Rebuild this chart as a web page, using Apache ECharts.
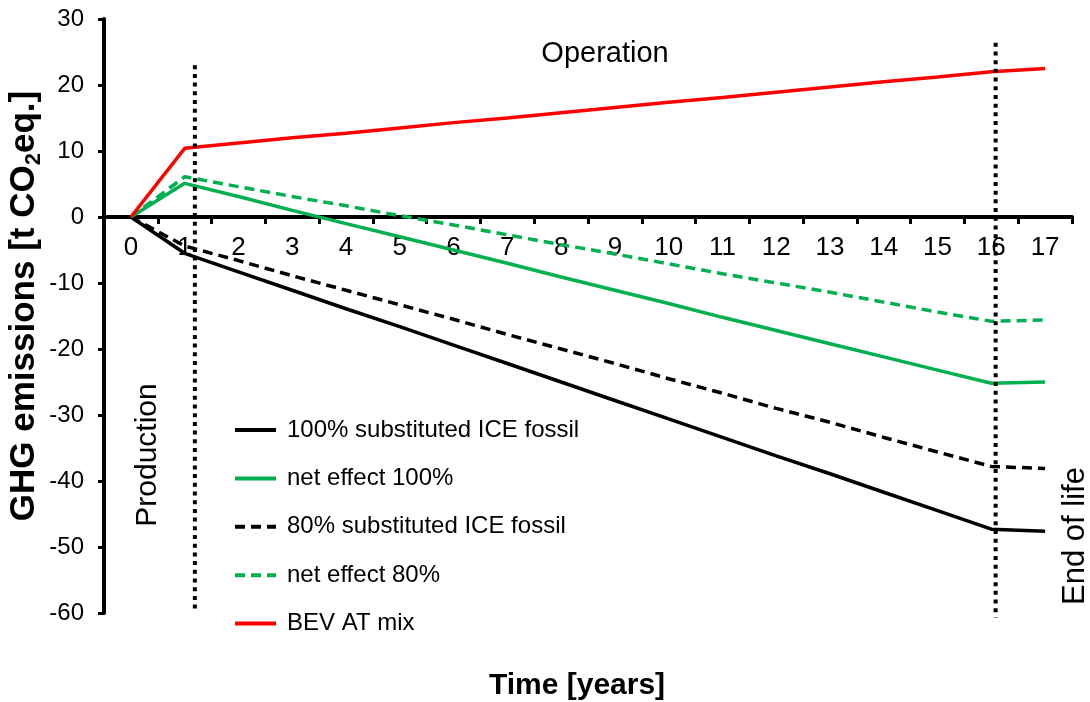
<!DOCTYPE html>
<html><head><meta charset="utf-8">
<script src="https://cdn.jsdelivr.net/npm/echarts@6/dist/echarts.min.js"></script>
<style>html,body{margin:0;padding:0;background:#fff}#c{width:1090px;height:702px}</style>
</head><body><div id="c"></div>
<script>
// ---- data ----
const years = ['0','1','2','3','4','5','6','7','8','9','10','11','12','13','14','15','16','17'];
const ice100 = [0, -5.5, -8.3, -11.1, -13.9, -16.6, -19.4, -22.2, -25.0, -27.8, -30.6, -33.4, -36.2, -38.9, -41.7, -44.5, -47.3, -47.6];
const net100 = [0, 5.1, 3.1, 1.0, -1.0, -3.0, -5.0, -7.0, -9.1, -11.1, -13.1, -15.2, -17.2, -19.2, -21.2, -23.2, -25.2, -25.0];
const ice80  = [0, -4.4, -6.6, -8.9, -11.1, -13.3, -15.5, -17.8, -20.0, -22.2, -24.5, -26.7, -29.0, -31.1, -33.4, -35.6, -37.8, -38.1];
const net80  = [0, 6.1, 4.6, 3.1, 1.7, 0.2, -1.2, -2.7, -4.2, -5.6, -7.1, -8.6, -10.0, -11.4, -12.9, -14.4, -15.8, -15.6];
const bev    = [0, 10.4, 11.2, 12.0, 12.7, 13.5, 14.3, 15.0, 15.8, 16.6, 17.4, 18.1, 18.9, 19.7, 20.5, 21.2, 22.0, 22.5];
const yTicks = [-60, -50, -40, -30, -20, -10, 0, 10, 20, 30];
// phase boundary markers (time position, top value, bottom value)
const productionEnd = [1.19, 23.0, -60.0];
const lifeEnd = [16.08, 26.4, -60.7];

const F = "'Liberation Sans', Arial, Helvetica, sans-serif";
const chart = echarts.init(document.getElementById('c'), null, {renderer: 'canvas'});

const GRID_TOP = 19, GRID_BOTTOM = 89, H = 702;
const yMin = yTicks[0], yMax = yTicks[yTicks.length - 1];
const plotH = H - GRID_TOP - GRID_BOTTOM;
// move the category axis up so that it sits on y = 0
const xAxisOffset = -plotH * (0 - yMin) / (yMax - yMin);

function lineSeries(name, data, color, dashed) {
  return {
    name, type: 'line', data, symbol: 'none', showSymbol: false, smooth: false,
    xAxisIndex: 0, yAxisIndex: 0,
    lineStyle: {color, width: 3.5, type: dashed ? [10, 6] : 'solid', cap: 'butt'},
    itemStyle: {color},
    emphasis: {disabled: true}, silent: true
  };
}
function marker(name, m) {
  return {
    name, type: 'line', xAxisIndex: 1, yAxisIndex: 0, symbol: 'none', clip: false, silent: true,
    data: [[m[0], m[1]], [m[0], m[2]]],
    lineStyle: {color: '#000', width: 4, type: [4, 4.7], cap: 'butt'}, z: 5
  };
}

chart.setOption({
  animation: false,
  backgroundColor: '#fff',
  grid: {left: 104, right: 18, top: GRID_TOP, bottom: GRID_BOTTOM, containLabel: false},
  xAxis: [{
    type: 'category', data: years, boundaryGap: true, position: 'bottom', offset: xAxisOffset,
    axisLine: {onZero: false, lineStyle: {color: '#000', width: 4}},
    axisTick: {show: true, inside: false, length: 7, alignWithLabel: false, lineStyle: {color: '#000', width: 3}},
    axisLabel: {color: '#000', fontSize: 26, fontFamily: F, margin: 18, interval: 0},
    splitLine: {show: false}
  }, {
    type: 'value', min: -0.5, max: 17.5, show: false
  }],
  yAxis: {
    type: 'value', min: yMin, max: yMax, interval: 10,
    axisLine: {show: true, onZero: false, lineStyle: {color: '#000', width: 4}},
    axisTick: {show: true, length: 6, lineStyle: {color: '#000', width: 3}},
    axisLabel: {color: '#000', fontSize: 24, fontFamily: F, margin: 20},
    splitLine: {show: false}
  },
  legend: {
    data: ['100% substituted ICE fossil', 'net effect 100%', '80% substituted ICE fossil', 'net effect 80%', 'BEV AT mix'],
    orient: 'vertical', left: 233, top: 418, padding: 0,
    itemWidth: 41, itemHeight: 22, itemGap: 24.4,
    lineStyle: {width: 4},
    itemStyle: {opacity: 0, color: 'rgba(0,0,0,0)', borderColor: 'rgba(0,0,0,0)', borderWidth: 0},
    textStyle: {color: '#000', fontSize: 24, fontFamily: F, lineHeight: 22, padding: [0, 0, 0, 6]},
    selectedMode: false
  },
  series: [
    lineSeries('100% substituted ICE fossil', ice100, '#000000', false),
    lineSeries('net effect 100%', net100, '#00B050', false),
    lineSeries('80% substituted ICE fossil', ice80, '#000000', true),
    lineSeries('net effect 80%', net80, '#00B050', true),
    lineSeries('BEV AT mix', bev, '#FF0000', false),
    marker('m1', productionEnd),
    marker('m2', lifeEnd)
  ],
  graphic: [
    {type: 'text', x: 605, y: 54, z: 100, silent: true,
      style: {text: 'Operation', fontSize: 29, fontFamily: F, fill: '#000', align: 'center', verticalAlign: 'middle'}},
    {type: 'text', x: 148, y: 455, rotation: Math.PI / 2, z: 100, silent: true,
      style: {text: 'Production', fontSize: 30, fontFamily: F, fill: '#000', align: 'center', verticalAlign: 'middle'}},
    {type: 'text', x: 1075, y: 536, rotation: Math.PI / 2, z: 100, silent: true,
      style: {text: 'End of life', fontSize: 31, fontFamily: F, fill: '#000', align: 'center', verticalAlign: 'middle'}},
    {type: 'text', x: 577, y: 686, z: 100, silent: true,
      style: {text: 'Time [years]', fontSize: 30, fontWeight: 'bold', fontFamily: F, fill: '#000', align: 'center', verticalAlign: 'middle'}},
    {type: 'text', x: 24, y: 306, rotation: Math.PI / 2, z: 100, silent: true,
      style: {
        text: '{m|GHG emissions [t CO}{s|2}{m|eq.]}', align: 'center', verticalAlign: 'middle', fill: '#000',
        rich: {
          m: {fontSize: 35, fontWeight: 'bold', fontFamily: F, lineHeight: 42, fill: '#000'},
          s: {fontSize: 22, fontWeight: 'bold', fontFamily: F, lineHeight: 23, verticalAlign: 'bottom', fill: '#000'}
        }
      }}
  ]
});
</script>
</body></html>
